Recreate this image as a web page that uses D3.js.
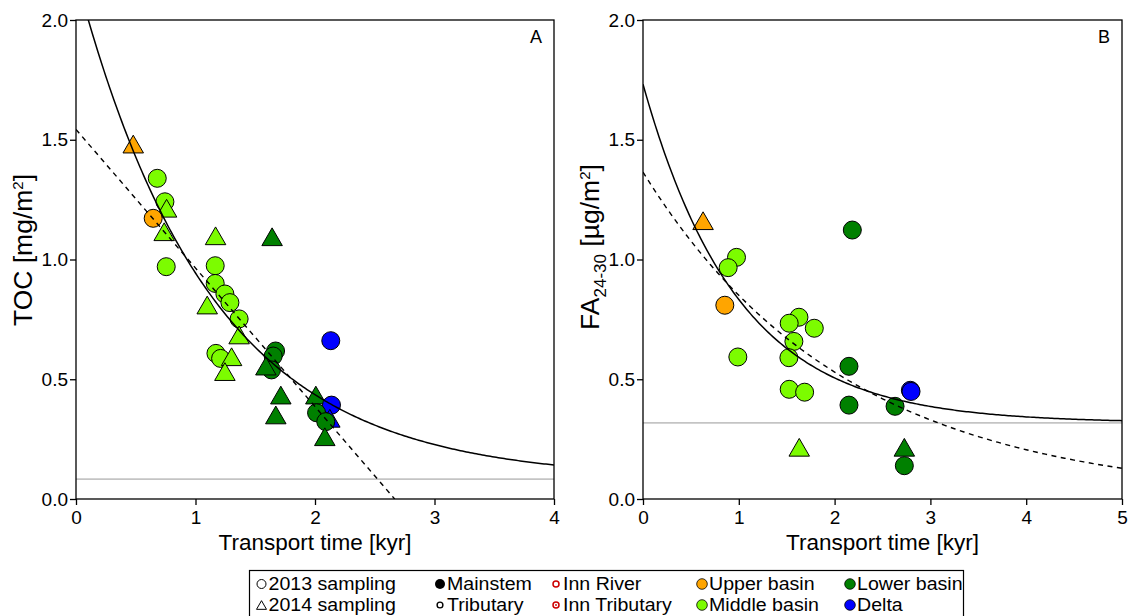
<!DOCTYPE html>
<html>
<head>
<meta charset="utf-8">
<script src="https://cdn.jsdelivr.net/npm/d3@7"></script>
<style>
  html, body { margin: 0; padding: 0; background: #fff; }
  svg { display: block; font-family: "Liberation Sans", Arial, Helvetica, sans-serif; }
</style>
</head>
<body>
<svg id="chart" width="1131" height="616"></svg>
<script>
// ---- Panel A: TOC loading vs transport time ----
const tocTime  = [0.479, 0.68, 0.744, 0.758, 0.646, 0.738, 1.168, 1.641, 0.755, 1.165, 1.165, 1.246, 1.288, 1.098, 1.365, 1.365, 1.171, 1.21, 1.302, 1.246, 1.67, 1.65, 1.636, 1.589, 2.132, 1.714, 1.672, 2.007, 2.138, 2.013, 2.124, 2.09, 2.082];
const tocValue = [1.482, 1.339, 1.241, 1.214, 1.172, 1.116, 1.099, 1.095, 0.970, 0.974, 0.900, 0.856, 0.820, 0.810, 0.752, 0.685, 0.608, 0.587, 0.594, 0.532, 0.618, 0.597, 0.539, 0.555, 0.661, 0.434, 0.351, 0.434, 0.392, 0.360, 0.337, 0.323, 0.260];
const tocYear  = [2014, 2013, 2013, 2014, 2013, 2014, 2014, 2014, 2013, 2013, 2013, 2013, 2013, 2014, 2013, 2014, 2013, 2013, 2014, 2014, 2013, 2013, 2013, 2014, 2013, 2014, 2014, 2014, 2013, 2013, 2014, 2013, 2014];
const tocBasin = ["upper", "middle", "middle", "middle", "upper", "middle", "middle", "lower", "middle", "middle", "middle", "middle", "middle", "middle", "middle", "middle", "middle", "middle", "middle", "middle", "lower", "lower", "lower", "lower", "delta", "lower", "lower", "lower", "delta", "lower", "delta", "lower", "lower"];

// ---- Panel B: FA(24-30) loading vs transport time ----
const faTime  = [0.627, 2.185, 0.976, 0.889, 0.854, 1.628, 1.526, 1.788, 1.575, 1.523, 0.99, 2.15, 1.526, 1.687, 2.791, 2.798, 2.15, 2.631, 1.631, 2.728, 2.728];
const faValue = [1.162, 1.123, 1.009, 0.966, 0.809, 0.759, 0.734, 0.713, 0.658, 0.590, 0.593, 0.554, 0.458, 0.446, 0.454, 0.449, 0.392, 0.387, 0.216, 0.216, 0.139];
const faYear  = [2014, 2013, 2013, 2013, 2013, 2013, 2013, 2013, 2013, 2013, 2013, 2013, 2013, 2013, 2013, 2013, 2013, 2013, 2014, 2014, 2013];
const faBasin = ["upper", "lower", "middle", "middle", "upper", "middle", "middle", "middle", "middle", "middle", "middle", "lower", "middle", "middle", "delta", "delta", "lower", "lower", "middle", "lower", "lower"];

// Fitted models: exponential decay to a plateau (solid), linear / pure exponential (dashed)
const tocExpFit = [2.102, 0.893, 0.083];   // a, k, plateau
const tocLinFit = [1.543, 2.667];          // intercept, x-intercept
const faExpFit  = [1.414, 1.01, 0.318];    // a, k, plateau
const faDecayFit = [1.365, 0.473];         // a, k

// Axis ticks
const yTicks = [0, 0.5, 1.0, 1.5, 2.0];
const xTicksA = [0, 1, 2, 3, 4];
const xTicksB = [0, 1, 2, 3, 4, 5];

const basinColor = { upper: "#FFA500", middle: "#7CFC00", lower: "#008000", delta: "#0000FF" };

const svg = d3.select("#chart");
const plotTop = 20, plotBottom = 499;
const y = d3.scaleLinear().domain([0, 2]).range([plotBottom, plotTop]);

function trianglePath(w) {
  const h = w * Math.sqrt(3) / 2;
  return `M0,${-h / 2}L${w / 2},${h / 2}L${-w / 2},${h / 2}Z`;
}

function panel(opts) {
  const { x, id, times, values, years, basins, plateau, solid, dashed, label, xTicks } = opts;
  const g = svg.append("g");
  const [x0, x1] = x.range();

  g.append("clipPath").attr("id", id).append("rect")
    .attr("x", x0).attr("y", plotTop).attr("width", x1 - x0).attr("height", plotBottom - plotTop);

  // plateau reference line
  g.append("line")
    .attr("x1", x0).attr("x2", x1)
    .attr("y1", y(plateau)).attr("y2", y(plateau))
    .attr("stroke", "#c4c4c4").attr("stroke-width", 1.6);

  // data points
  const pts = d3.range(times.length).map(i => ({ t: times[i], v: values[i], yr: years[i], b: basins[i] }));
  const pg = g.append("g");
  pts.forEach(p => {
    if (p.yr === 2013) {
      pg.append("circle")
        .attr("cx", x(p.t)).attr("cy", y(p.v)).attr("r", 9)
        .attr("fill", basinColor[p.b]).attr("stroke", "#000").attr("stroke-width", 1);
    } else {
      pg.append("path")
        .attr("d", trianglePath(20.5))
        .attr("transform", `translate(${x(p.t)},${y(p.v)})`)
        .attr("fill", basinColor[p.b]).attr("stroke", "#000").attr("stroke-width", 1);
    }
  });

  // fitted curves
  const line = d3.line().x(d => x(d[0])).y(d => y(d[1]));
  const cg = g.append("g").attr("clip-path", `url(#${id})`);
  const dom = x.domain();
  const xs = d3.range(0, 241).map(i => dom[0] + (dom[1] - dom[0]) * i / 240);
  cg.append("path").datum(xs.map(t => [t, solid(t)]))
    .attr("d", line).attr("fill", "none").attr("stroke", "#000").attr("stroke-width", 1.5);
  cg.append("path").datum(dashed.points)
    .attr("d", line).attr("fill", "none").attr("stroke", "#000").attr("stroke-width", 1.4)
    .attr("stroke-dasharray", "5,4.5");

  // frame
  g.append("rect")
    .attr("x", x0).attr("y", plotTop).attr("width", x1 - x0).attr("height", plotBottom - plotTop)
    .attr("fill", "none").attr("stroke", "#000").attr("stroke-width", 1.3);

  // axes
  const ax = g.append("g").attr("transform", `translate(${x0},0)`)
    .call(d3.axisLeft(y).tickValues(yTicks).tickFormat(d3.format(".1f")).tickSize(6).tickPadding(2).tickSizeOuter(0));
  const bx = g.append("g").attr("transform", `translate(0,${plotBottom})`)
    .call(d3.axisBottom(x).tickValues(xTicks).tickFormat(d3.format("d")).tickSize(6).tickPadding(6).tickSizeOuter(0));
  [ax, bx].forEach(a => {
    a.select(".domain").remove();
    a.selectAll(".tick line").attr("stroke", "#000").attr("stroke-width", 1.3);
    a.selectAll(".tick text").attr("fill", "#000").style("font-size", "19px")
      .style("font-family", '"Liberation Sans", Arial, sans-serif');
  });

  // x title
  g.append("text")
    .attr("x", (x0 + x1) / 2).attr("y", 550)
    .attr("text-anchor", "middle").style("font-size", "22.5px")
    .text("Transport time [kyr]");

  // panel letter
  g.append("text")
    .attr("x", x1 - 18).attr("y", 43)
    .attr("text-anchor", "middle").style("font-size", "18px")
    .text(label);
  return g;
}

const xA = d3.scaleLinear().domain([0, 4]).range([76, 554]);
const xB = d3.scaleLinear().domain([0, 5]).range([643, 1122]);

panel({
  x: xA, id: "clipA", times: tocTime, values: tocValue, years: tocYear, basins: tocBasin,
  plateau: tocExpFit[2],
  solid: t => tocExpFit[2] + tocExpFit[0] * Math.exp(-tocExpFit[1] * t),
  dashed: { points: [[0, tocLinFit[0]], [tocLinFit[1], 0]] },
  label: "A", xTicks: xTicksA
});

panel({
  x: xB, id: "clipB", times: faTime, values: faValue, years: faYear, basins: faBasin,
  plateau: faExpFit[2],
  solid: t => faExpFit[2] + faExpFit[0] * Math.exp(-faExpFit[1] * t),
  dashed: { points: d3.range(0, 101).map(i => { const t = 5 * i / 100; return [t, faDecayFit[0] * Math.exp(-faDecayFit[1] * t)]; }) },
  label: "B", xTicks: xTicksB
});

// y titles
const ya = svg.append("text")
  .attr("transform", "translate(32,250) rotate(-90)")
  .attr("text-anchor", "middle").style("font-size", "26.5px");
ya.append("tspan").text("TOC [mg/m");
ya.append("tspan").attr("dy", -9).style("font-size", "15px").text("2");
ya.append("tspan").attr("dy", 9).text("]");

const yb = svg.append("text")
  .attr("transform", "translate(599,247) rotate(-90)")
  .attr("text-anchor", "middle").style("font-size", "26.5px");
yb.append("tspan").text("FA");
yb.append("tspan").attr("dy", 7).style("font-size", "17px").text("24-30");
yb.append("tspan").attr("dy", -7).text(" [\u00b5g/m");
yb.append("tspan").attr("dy", -9).style("font-size", "15px").text("2");
yb.append("tspan").attr("dy", 9).text("]");

// ---- Legend ----
const legendRows = [590, 611];
const legendCols = [261.5, 440, 556, 702, 850];
const legendLabels = [
  ["2013 sampling", "2014 sampling"],
  ["Mainstem", "Tributary"],
  ["Inn River", "Inn Tributary"],
  ["Upper basin", "Middle basin"],
  ["Lower basin", "Delta"]
];
const lg = svg.append("g");
lg.append("rect").attr("x", 249.5).attr("y", 570.5).attr("width", 714).attr("height", 60)
  .attr("fill", "#fff").attr("stroke", "#000").attr("stroke-width", 1.2);

legendLabels.forEach((pair, c) => {
  pair.forEach((lab, r) => {
    const cx = legendCols[c], cy = legendRows[r] - 6;
    if (c === 0 && r === 0) {
      lg.append("circle").attr("cx", cx).attr("cy", cy).attr("r", 4.5).attr("fill", "none").attr("stroke", "#000").attr("stroke-width", 1);
    } else if (c === 0) {
      lg.append("path").attr("d", trianglePath(10)).attr("transform", `translate(${cx},${cy})`).attr("fill", "none").attr("stroke", "#000").attr("stroke-width", 1);
    } else if (c === 1 && r === 0) {
      lg.append("circle").attr("cx", cx).attr("cy", cy).attr("r", 5).attr("fill", "#000");
    } else if (c === 1) {
      lg.append("circle").attr("cx", cx).attr("cy", cy).attr("r", 2.9).attr("fill", "none").attr("stroke", "#000").attr("stroke-width", 1.4);
    } else if (c === 2) {
      lg.append("circle").attr("cx", cx).attr("cy", cy).attr("r", 3).attr("fill", "none").attr("stroke", "#cc0000").attr("stroke-width", 1.5);
      if (r === 1) lg.append("circle").attr("cx", cx).attr("cy", cy).attr("r", 0.9).attr("fill", "#cc0000");
    } else {
      const key = c === 3 ? (r === 0 ? "upper" : "middle") : (r === 0 ? "lower" : "delta");
      lg.append("circle").attr("cx", cx).attr("cy", cy).attr("r", 5.3).attr("fill", basinColor[key]).attr("stroke", "#000").attr("stroke-width", 0.8);
    }
    lg.append("text")
      .attr("transform", `translate(${cx + 7},${legendRows[r]}) scale(1.12,1)`)
      .style("font-size", "17.5px").text(lab);
  });
});
</script>
</body>
</html>
